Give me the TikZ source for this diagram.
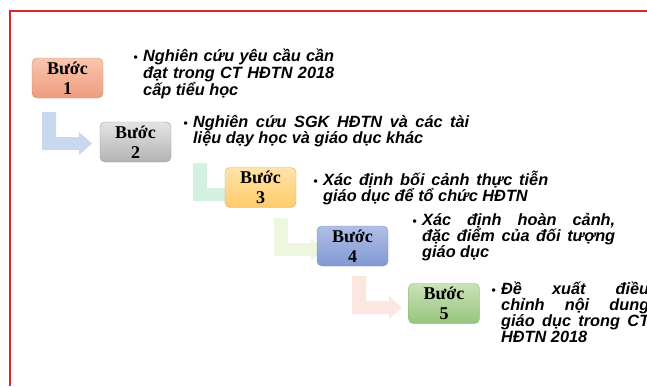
\documentclass[tikz,border=0pt]{standalone}
\usepackage{fontspec}
\setmainfont{Liberation Serif}
\newfontfamily\arialfont{Liberation Sans}

\definecolor{framered}{HTML}{E32322}
\definecolor{oneTop}{HTML}{F9C6AF}
\definecolor{oneBot}{HTML}{EE9C7E}
\definecolor{twoTop}{HTML}{E4E4E4}
\definecolor{twoBot}{HTML}{B3B3B3}
\definecolor{threeTop}{HTML}{FFE4A8}
\definecolor{threeBot}{HTML}{FFCB6B}
\definecolor{fourTop}{HTML}{B0BFE6}
\definecolor{fourBot}{HTML}{8198D3}
\definecolor{fiveTop}{HTML}{C9E3B7}
\definecolor{fiveBot}{HTML}{96C47C}
\definecolor{arrowblue}{HTML}{C8D8EE}
\definecolor{arrowgreen}{HTML}{D3F0E1}
\definecolor{arrowlime}{HTML}{EDF6DF}
\definecolor{arrowpink}{HTML}{FBE6E0}

\newcommand{\bentarrow}[3]{%
  \fill[#3] (#1,#2) -- ++(14,0) -- ++(0,-25) -- ++(23,0) -- ++(0,5) -- ++(13,-11.5)
    -- ++(-13,-11.5) -- ++(0,5) -- ++(-37,0) -- cycle;}
\newcommand{\stepbullet}{\llap{{\upshape\fontsize{12}{12}\selectfont•}\hspace{5.5pt}}}

\begin{document}
\begin{tikzpicture}[x=1pt,y=1pt,
  stepbox/.style 2 args={rounded corners=5pt, minimum width=71pt, minimum height=40pt,
    inner sep=0pt, align=center, top color=#1, bottom color=#2, draw=#2!60!gray,
    font=\bfseries\fontsize{18}{20}\selectfont},
  steptext/.style={anchor=base west, inner sep=0pt, align=left,
    font=\arialfont\bfseries\itshape\fontsize{16.3}{16.3}\selectfont}]
  \useasboundingbox (0,0) rectangle (647,-386);
  \draw[framered, line width=1.5pt] (10,-386) -- (10,-11) -- (647,-11);

  \bentarrow{42}{-112}{arrowblue}
  \bentarrow{193}{-163}{arrowgreen}
  \bentarrow{274}{-218}{arrowlime}
  \bentarrow{352}{-276}{arrowpink}

  \node[stepbox={oneTop}{oneBot}] (step1) at (67.5,-78) {Bước\\1};
  \node[stepbox={twoTop}{twoBot}] (step2) at (135.5,-142) {Bước\\2};
  \node[stepbox={threeTop}{threeBot}] (step3) at (260.5,-187.5) {Bước\\3};
  \node[stepbox={fourTop}{fourBot}] (step4) at (352.5,-246) {Bước\\4};
  \node[stepbox={fiveTop}{fiveBot}] (step5) at (444,-303.5) {Bước\\5};

  \node[steptext] (text1) at (143,-95.6) {\stepbullet\makebox[191pt][s]{Nghiên cứu yêu cầu cần}\\
    \makebox[191pt][s]{đạt trong CT HĐTN 2018}\\cấp tiểu học};
  \node[steptext] (text2) at (193,-143.3) {\stepbullet\makebox[276pt][s]{Nghiên cứu SGK HĐTN và các tài}\\
    liệu dạy học và giáo dục khác};
  \node[steptext] (text3) at (323,-201.5) {\stepbullet\makebox[225pt][s]{Xác định bối cảnh thực tiễn}\\
    giáo dục để tổ chức HĐTN};
  \node[steptext] (text4) at (422,-257.6) {\stepbullet\makebox[193pt][s]{Xác định hoàn cảnh,}\\
    \makebox[193pt][s]{đặc điểm của đối tượng}\\giáo dục};
  \node[steptext] (text5) at (501,-342.9) {\stepbullet\makebox[148pt][s]{Đề xuất điều}\\
    \makebox[148pt][s]{chỉnh nội dung}\\\makebox[148pt][s]{giáo dục trong CT}\\HĐTN 2018};
\end{tikzpicture}
\end{document}
